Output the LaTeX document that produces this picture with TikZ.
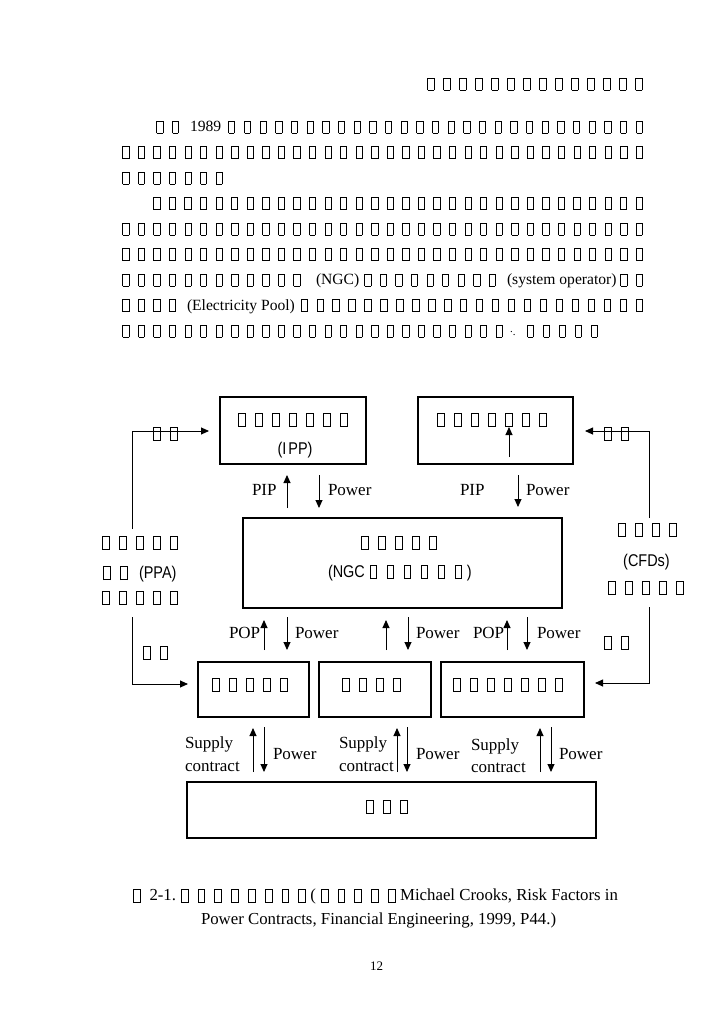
\documentclass[tikz,border=0pt]{standalone}
\usepackage{fontspec}
\setmainfont{Liberation Serif}
\newfontfamily\sfc[FakeStretch=0.85]{Liberation Sans}
\usetikzlibrary{arrows.meta}
\newcommand\tofuglyph{\lower0.12em\hbox{\vrule width 0.7pt height 0.82em depth 0pt\vbox to 0.82em{\hrule height 0.7pt width 0.36em\vfil\hrule height 0.7pt width 0.36em}\vrule width 0.7pt height 0.82em depth 0pt}}
\def\tfpitch{1em}
\newcommand\tfx{\hbox to \tfpitch{\hss\tofuglyph\hss}}
\newcount\tfcnt
\newcommand\tfrow[1]{\tfcnt=#1\relax\loop\tfx\advance\tfcnt by -1\relax\ifnum\tfcnt>0\repeat}
\newcommand\bodyf{\fontsize{15.6pt}{18pt}\selectfont}
\newcommand\diaf{\fontsize{17pt}{20pt}\selectfont}
\newcommand\capf{\fontsize{16.8pt}{20pt}\selectfont}
\begin{document}
\begin{tikzpicture}[x=1pt,y=-1pt,
  txt/.style={inner sep=0pt,outer sep=0pt},
  body/.style={txt,font=\bodyf,anchor=base west},
  bodye/.style={txt,font=\bodyf,anchor=base east},
  dia/.style={txt,font=\diaf},
  diab/.style={txt,font=\diaf,anchor=base west},
  frame/.style={draw,line width=1.1pt,inner sep=0pt,outer sep=0pt},
  ln/.style={line width=0.9pt},
  arr/.style={line width=0.9pt,-{Triangle[length=8pt,width=7pt]}}]
\fill[white] (0,0) rectangle (728,1031);
\useasboundingbox (0,0) rectangle (728,1031);

% ---------- header and text ----------
\node[body] (hd) at (422.75,88.5) {\def\tfpitch{16pt}\tfrow{14}};
\node[body] (p1a) at (152,131.5) {\tfrow{2}};
\node[body] (p1b) at (190,131.5) {1989};
\node[bodye] (p1c) at (647.2,131.5) {\def\tfpitch{15.68pt}\tfrow{27}};
\node[body] (p2) at (118,157) {\def\tfpitch{15.56pt}\tfrow{34}};
\node[body] (p3) at (118,182.5) {\def\tfpitch{15.56pt}\tfrow{7}};
\node[body] (p4) at (149.1,208) {\def\tfpitch{15.56pt}\tfrow{32}};
\node[body] (p5) at (118,233.5) {\def\tfpitch{15.56pt}\tfrow{34}};
\node[body] (p6) at (118,259) {\def\tfpitch{15.56pt}\tfrow{34}};
\node[body] (p7a) at (118,284.5) {\def\tfpitch{15.56pt}\tfrow{12}};
\node[body] (p7b) at (316,284.5) {(NGC)};
\node[body] (p7c) at (360,284.5) {\def\tfpitch{15.56pt}\tfrow{9}};
\node[body] (p7d) at (507,284.5) {(system operator)};
\node[bodye] (p7e) at (647.2,284.5) {\def\tfpitch{15.56pt}\tfrow{2}};
\node[body] (p8a) at (118,310) {\def\tfpitch{15.56pt}\tfrow{4}};
\node[body] (p8b) at (187,310) {(Electricity Pool)};
\node[bodye] (p8c) at (647.2,310) {\def\tfpitch{15.96pt}\tfrow{22}};
\node[body] (p9a) at (118,335.5) {\def\tfpitch{15.56pt}\tfrow{25}};
\node[body] (p9b) at (510,335.5) {\fontsize{11pt}{11pt}\selectfont\raisebox{3pt}{.}.};
\node[body] (p9c) at (522.5,335.5) {\def\tfpitch{16pt}\tfrow{5}};

% ---------- frames ----------
\node[frame,minimum width=146,minimum height=67] (ipp) at (293,430.5) {};
\node[frame,minimum width=155,minimum height=67] (gen) at (495.5,430.5) {};
\node[frame,minimum width=319,minimum height=90] (ngc) at (402.5,563) {};
\node[frame,minimum width=111,minimum height=55] (bx1) at (253.5,689.5) {};
\node[frame,minimum width=112,minimum height=55] (bx2) at (375,689.5) {};
\node[frame,minimum width=143,minimum height=55] (bx3) at (512.5,689.5) {};
\node[frame,minimum width=409,minimum height=56] (cons) at (391.5,810) {};

% ---------- frame texts ----------
\node[dia] (ippa) at (293,420) {\tfrow{7}};
\node[dia] (ippb) at (295,450) {\sfc(I\hspace{2pt}PP)};
\node[dia] (gena) at (492,420) {\tfrow{7}};
\node[dia] (ngca) at (399,543) {\tfrow{5}};
\node[diab] (ngcb) at (328,577) {\sfc(NGC\normalfont\tfrow{6}\sfc)};
\node[dia] (bx1t) at (250,685) {\tfrow{5}};
\node[dia] (bx2t) at (371,685) {\tfrow{4}};
\node[dia] (bx3t) at (507.5,685) {\tfrow{7}};
\node[dia] (const) at (386.5,807) {\tfrow{3}};

% ---------- side texts ----------
\node[dia] (l1) at (140,543) {\tfrow{5}};
\node[diab] (l2a) at (98.3,578) {\tfrow{2}};
\node[diab] (l2b) at (139,578) {\sfc(PPA)};
\node[dia] (l3) at (140,598) {\tfrow{5}};
\node[dia] (r1) at (647,530) {\tfrow{4}};
\node[dia] (r2) at (646.5,562) {\sfc(CFDs)};
\node[dia] (r3) at (646,588) {\tfrow{5}};
\node[dia] (lt) at (165.5,434) {\tfrow{2}};
\node[dia] (lb) at (155,653) {\tfrow{2}};
\node[dia] (rt) at (616.5,434) {\tfrow{2}};
\node[dia] (rb) at (616,643) {\tfrow{2}};

% ---------- arrow labels ----------
\node[diab] (pip1) at (252,495.6) {PIP};
\node[diab] (pw1) at (328,495.6) {Power};
\node[diab] (pip2) at (460,495.6) {PIP};
\node[diab] (pw2) at (526,495.6) {Power};
\node[diab] (pop1) at (229,638.6) {POP};
\node[diab] (pw3) at (295,638.6) {Power};
\node[diab] (pw4) at (416,638.6) {Power};
\node[diab] (pop2) at (473,638.6) {POP};
\node[diab] (pw5) at (537,638.6) {Power};
\node[diab] (sp1) at (185,748.6) {Supply};
\node[diab] (ct1) at (185,771.6) {contract};
\node[diab] (pw6) at (273,759.6) {Power};
\node[diab] (sp2) at (339,748.6) {Supply};
\node[diab] (ct2) at (339,771.6) {contract};
\node[diab] (pw7) at (416,759.6) {Power};
\node[diab] (sp3) at (471,750.6) {Supply};
\node[diab] (ct3) at (471,772.6) {contract};
\node[diab] (pw8) at (559,759.6) {Power};

% ---------- connector end points ----------
\coordinate (a1s) at (287,508); \coordinate (a1e) at (287,475);
\coordinate (a2s) at (319,475); \coordinate (a2e) at (319,508);
\coordinate (a3s) at (518,475); \coordinate (a3e) at (518,507);
\coordinate (a4s) at (509,457); \coordinate (a4e) at (509,427);
\coordinate (m1s) at (264,650); \coordinate (m1e) at (264,620);
\coordinate (m2s) at (287,617); \coordinate (m2e) at (287,650);
\coordinate (m3s) at (386,650); \coordinate (m3e) at (386,620);
\coordinate (m4s) at (408,617); \coordinate (m4e) at (408,650);
\coordinate (m5s) at (507,650); \coordinate (m5e) at (507,620);
\coordinate (m6s) at (527,617); \coordinate (m6e) at (527,650);
\coordinate (s1s) at (253,772); \coordinate (s1e) at (253,728);
\coordinate (s2s) at (264,727); \coordinate (s2e) at (264,772);
\coordinate (s3s) at (397,772); \coordinate (s3e) at (397,728);
\coordinate (s4s) at (407,727); \coordinate (s4e) at (407,772);
\coordinate (s5s) at (540,772); \coordinate (s5e) at (540,728);
\coordinate (s6s) at (551,727); \coordinate (s6e) at (551,772);
\coordinate (lus) at (132,529); \coordinate (lue) at (209,431);
\coordinate (lds) at (132,617); \coordinate (lde) at (188,684);
\coordinate (rus) at (649,518); \coordinate (rue) at (585,431);
\coordinate (rds) at (649,607); \coordinate (rde) at (595,683);

\foreach \a in {a1,a2,a3,a4,m1,m2,m3,m4,m5,m6,s1,s2,s3,s4,s5,s6}
  \draw[arr] (\a s) -- (\a e);
\draw[arr] (lus) |- (lue);
\draw[arr] (lds) |- (lde);
\draw[arr] (rus) |- (rue);
\draw[arr] (rds) |- (rde);

% ---------- caption ----------
\node[txt,font=\capf,anchor=base west] (cap1) at (128.5,900.5) {\tfx\ 2-1.\tfrow{8}(\tfrow{5}Michael Crooks, Risk Factors in};
\node[txt,font=\capf,anchor=base west] (cap2) at (201,924.5) {Power Contracts, Financial Engineering, 1999, P44.)};
\node[txt,font=\fontsize{13pt}{15pt}\selectfont,anchor=base] (pg) at (376.5,970) {12};
\end{tikzpicture}
\end{document}
